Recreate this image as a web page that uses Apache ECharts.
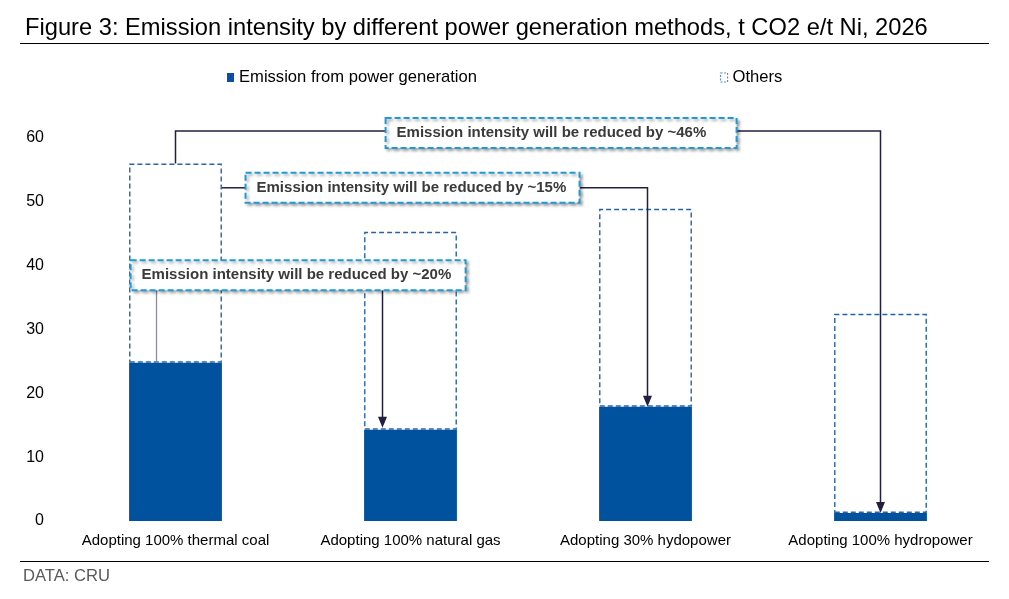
<!DOCTYPE html>
<html><head><meta charset="utf-8">
<script src="https://cdn.jsdelivr.net/npm/echarts@6/dist/echarts.min.js"></script>
<style>html,body{margin:0;padding:0;background:#fff}#c{width:1009px;height:599px}</style>
</head><body><div id="c"></div>
<script>
const categories = ['Adopting 100% thermal coal', 'Adopting 100% natural gas', 'Adopting 30% hydopower', 'Adopting 100% hydropower'];
const powerGeneration = [24.8, 14.3, 17.9, 1.25];
const others = [31.2, 31.0, 31.0, 31.2];
const yTicks = [0, 10, 20, 30, 40, 50, 60];
const seriesNames = ['Emission from power generation', 'Others'];
const titleText = 'Figure 3: Emission intensity by different power generation methods, t CO2 e/t Ni, 2026';
const sourceText = 'DATA: CRU';
const annotationTexts = ['Emission intensity will be reduced by ~46%', 'Emission intensity will be reduced by ~15%', 'Emission intensity will be reduced by ~20%'];
// line level (data value) for each annotation
const annotationLevels = [61.1, 52.2, 38.5];

const FONT = '"Liberation Sans", Arial, sans-serif';
const chart = echarts.init(document.getElementById('c'), null, {renderer: 'canvas'});

chart.setOption({
  animation: false,
  backgroundColor: '#fff',
  title: {
    text: titleText, left: 20, top: 11,
    textStyle: {fontFamily: FONT, fontSize: 23.7, fontWeight: 'normal', color: '#000'}
  },
  legend: {
    left: 222, top: 64, itemGap: 243, itemWidth: 7, itemHeight: 9,
    textStyle: {fontFamily: FONT, fontSize: 16.6, color: '#000', padding: [0, 0, 0, 0]},
    data: [
      {name: seriesNames[0], icon: 'rect', itemStyle: {color: '#0A4FA6', borderWidth: 0}},
      {name: seriesNames[1], icon: 'rect', itemStyle: {color: '#fff', borderColor: '#5A8FC0', borderWidth: 1.2, borderType: [2, 1.5]}}
    ]
  },
  grid: {left: 58, right: 11, top: 138, bottom: 78, containLabel: false},
  xAxis: {
    type: 'category', data: categories,
    axisLine: {show: false}, axisTick: {show: false},
    axisLabel: {interval: 0, fontFamily: FONT, fontSize: 15, color: '#000', margin: 12}
  },
  yAxis: {
    type: 'value', min: yTicks[0], max: yTicks[yTicks.length - 1], interval: 10,
    axisLine: {show: false}, axisTick: {show: false}, splitLine: {show: false},
    axisLabel: {fontFamily: FONT, fontSize: 16, color: '#000', margin: 14}
  },
  series: [
    {
      name: seriesNames[0], type: 'bar', stack: 'total', data: powerGeneration, barWidth: '39.5%',
      itemStyle: {color: '#00519E'}
    },
    {
      name: seriesNames[1], type: 'bar', stack: 'total', data: others,
      itemStyle: {color: 'rgba(255,255,255,0)', borderColor: '#2663AD', borderWidth: 1.4, borderType: [5, 3]}
    }
  ]
});

function px(cat, val) { return chart.convertToPixel({gridIndex: 0}, [cat, val]); }
const catW = px(1, 0)[0] - px(0, 0)[0];
const barHalf = catW * 0.395 / 2;
const totals = powerGeneration.map((v, i) => v + others[i]);
const LINE = '#231F40';

const g = [];
function line(points, color, w) {
  g.push({type: 'polyline', shape: {points}, style: {stroke: color || LINE, lineWidth: w || 1.5, fill: null}, z: 10});
}
function arrow(x, y) {
  g.push({type: 'polygon', shape: {points: [[x, y], [x - 4.5, y - 11], [x + 4.5, y - 11]]}, style: {fill: LINE}, z: 11});
}
function box(x, yc, w, text) {
  const h = 30;
  g.push({type: 'rect', shape: {x, y: yc - h / 2, width: w, height: h},
    style: {fill: '#fff', stroke: '#1E9AD6', lineWidth: 2, lineDash: [6, 3],
      shadowBlur: 3, shadowOffsetX: 2, shadowOffsetY: 2, shadowColor: 'rgba(0,0,0,0.35)'}, z: 20});
  g.push({type: 'text', x: x + 11, y: yc, style: {text, fontFamily: FONT, fontSize: 15, fontWeight: 'bold', fill: '#3A3A3A', verticalAlign: 'middle', align: 'left'}, z: 21});
  return {left: x, right: x + w, top: yc - h / 2, bottom: yc + h / 2};
}

const c0 = px(0, 0)[0], c1 = px(1, 0)[0], c2 = px(2, 0)[0], c3 = px(3, 0)[0];
// Annotation A (~46%)
const yA = px(0, annotationLevels[0])[1];
const bA = box(c0 + catW * 0.894, yA + 2, 351, annotationTexts[0]);
line([[c0, px(0, totals[0])[1]], [c0, yA], [bA.left, yA]]);
const tipA = px(3, powerGeneration[3])[1];
line([[bA.right, yA], [c3, yA], [c3, tipA - 8]]);
arrow(c3, tipA);
// Annotation B (~15%)
const yB = px(0, annotationLevels[1])[1];
const bB = box(c0 + catW * 0.298, yB, 334, annotationTexts[1]);
line([[c0 + barHalf, yB], [bB.left, yB]]);
const tipB = px(2, powerGeneration[2])[1];
line([[bB.right, yB], [c2 + 2, yB], [c2 + 2, tipB - 8]]);
arrow(c2 + 2, tipB);
// Annotation C (~20%)
const yC = px(0, annotationLevels[2])[1];
const bC = box(c0 - catW * 0.191, yC, 335, annotationTexts[2]);
line([[c0 - 19, bC.bottom], [c0 - 19, px(0, powerGeneration[0])[1]]], '#8A8AA0', 1.3);
const tipC = px(1, powerGeneration[1])[1] - 2;
line([[c1 - 28, bC.bottom], [c1 - 28, tipC - 8]]);
arrow(c1 - 28, tipC);

// Title underline, footer line and source
g.push({type: 'line', shape: {x1: 20, y1: 43.5, x2: 989, y2: 43.5}, style: {stroke: '#000', lineWidth: 1.2}});
g.push({type: 'line', shape: {x1: 20, y1: 561.5, x2: 989, y2: 561.5}, style: {stroke: '#000', lineWidth: 1.2}});
g.push({type: 'text', x: 23, y: 576, style: {text: sourceText, fontFamily: FONT, fontSize: 16.6, fill: '#595959', verticalAlign: 'middle'}});

chart.setOption({graphic: g});
</script></body></html>
